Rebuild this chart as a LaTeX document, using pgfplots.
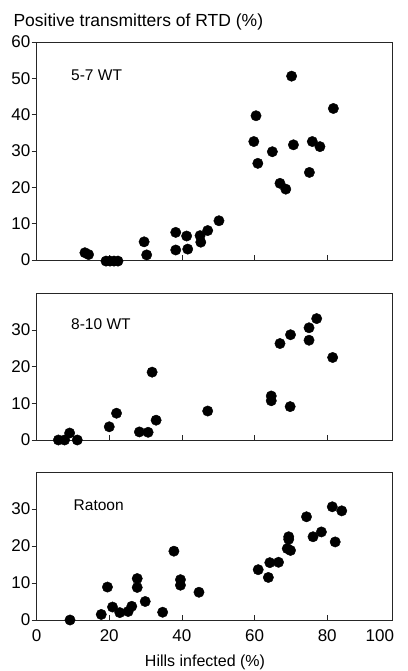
\documentclass[border=0pt]{standalone}
\usepackage{fontspec}
\setmainfont{Liberation Sans}
\usepackage{pgfplots}
\pgfplotsset{compat=1.18}
\begin{document}
\fontsize{16}{19}\selectfont
\begin{tikzpicture}
\path[use as bounding box] (0pt,0pt) rectangle (407pt,671pt);
\pgfplotsset{
  panel/.style={
    scale only axis, width=356pt, xmin=0, xmax=98, ymin=0,
    anchor=south west, clip=false,
    axis line style={line width=0.9pt, black!85},
    xtick={20,40,60,80}, xtick pos=bottom, ytick pos=left,
    xtick align=inside, ytick align=outside,
    major tick length=5pt,
    tick style={line width=0.8pt, black!85},
    xticklabels={},
    yticklabel style={inner sep=1pt, font=\fontsize{17}{20}\selectfont},
    /pgf/number format/assume math mode=true,
    only marks, 
  },
  dots/.style={mark=*, mark size=5.2pt, black, mark options={fill=black, draw=black}},
}
% Panel 1: 5-7 WT
\begin{axis}[panel, at={(36.6pt,411pt)}, height=218pt, ymax=60, ytick={0,10,...,60}]
\addplot[dots] coordinates {
(13.3,2.0) (14.3,1.5)
(19.1,-0.3) (20.2,-0.3) (21.3,-0.3) (22.4,-0.3)
(29.6,5.0) (30.3,1.4)
(38.3,7.6) (38.3,2.75)
(41.3,6.6) (41.6,3.0)
(45.0,6.7) (45.2,4.9)
(47.1,8.1) (50.2,10.8)
(59.8,32.6) (60.4,39.7) (60.9,26.6)
(64.9,29.8) (67.0,21.1) (68.6,19.5)
(70.2,50.6) (70.7,31.7)
(75.1,24.1) (75.9,32.6) (78.0,31.2) (81.7,41.7)
};
\node[anchor=base west, font=\fontsize{15.5}{18}\selectfont] at (axis cs:8.0,49.5) {5-7 WT};
\end{axis}
% Panel 2: 8-10 WT
\begin{axis}[panel, at={(36.6pt,231pt)}, height=146.7pt, ymax=40, ytick={0,10,20,30}]
\addplot[dots] coordinates {
(6.0,0) (7.7,0) (9.1,1.9) (11.2,0)
(20.0,3.6) (22.0,7.3)
(28.3,2.2) (30.7,2.1) (31.8,18.5) (32.9,5.4)
(47.1,7.9)
(64.6,12.0) (64.6,10.7)
(67.0,26.3) (69.9,28.7) (69.8,9.1)
(75.0,30.6) (75.0,27.2) (77.1,33.1) (81.5,22.5)
};
\node[anchor=base west, font=\fontsize{15.5}{18}\selectfont] at (axis cs:8.0,30) {8-10 WT};
\end{axis}
% Panel 3: Ratoon
\begin{axis}[panel, at={(36.6pt,51pt)}, height=148pt, ymax=40, ytick={0,10,20,30},
  xtick={0,20,40,60,80}, xticklabels={0,20,40,60,80},
  xticklabel style={yshift=-4pt, font=\fontsize{17}{20}\selectfont},
  extra x ticks={97.7}, extra x tick labels={100},
  extra x tick style={major tick length=0pt, xticklabel style={anchor=north east, xshift=8pt}}]
\addplot[dots] coordinates {
(9.2,0) (17.8,1.5) (19.5,8.9) (20.9,3.5) (22.9,2.0)
(25.2,2.3) (26.2,3.7) (27.7,11.2) (27.7,8.8) (29.9,5.0)
(34.7,2.1) (37.8,18.6) (39.6,10.9) (39.6,9.4) (44.7,7.5)
(61.0,13.6) (63.8,11.5) (64.2,15.5) (66.6,15.6)
(69.4,22.5) (69.4,21.8) (69.0,19.3) (69.9,18.8)
(74.3,27.9) (76.1,22.5) (78.4,23.8) (81.4,30.6) (82.2,21.1) (84.0,29.5)
};
\node[anchor=base west, font=\fontsize{15.5}{18}\selectfont] at (axis cs:8.7,29.5) {Ratoon};
\end{axis}
\node[anchor=base west, font=\fontsize{17.5}{20}\selectfont] at (8pt,644pt) {Positive transmitters of RTD (\%)};
\node[anchor=base, font=\fontsize{16}{19}\selectfont] at (205pt,5pt) {Hills infected (\%)};
\end{tikzpicture}
\end{document}
